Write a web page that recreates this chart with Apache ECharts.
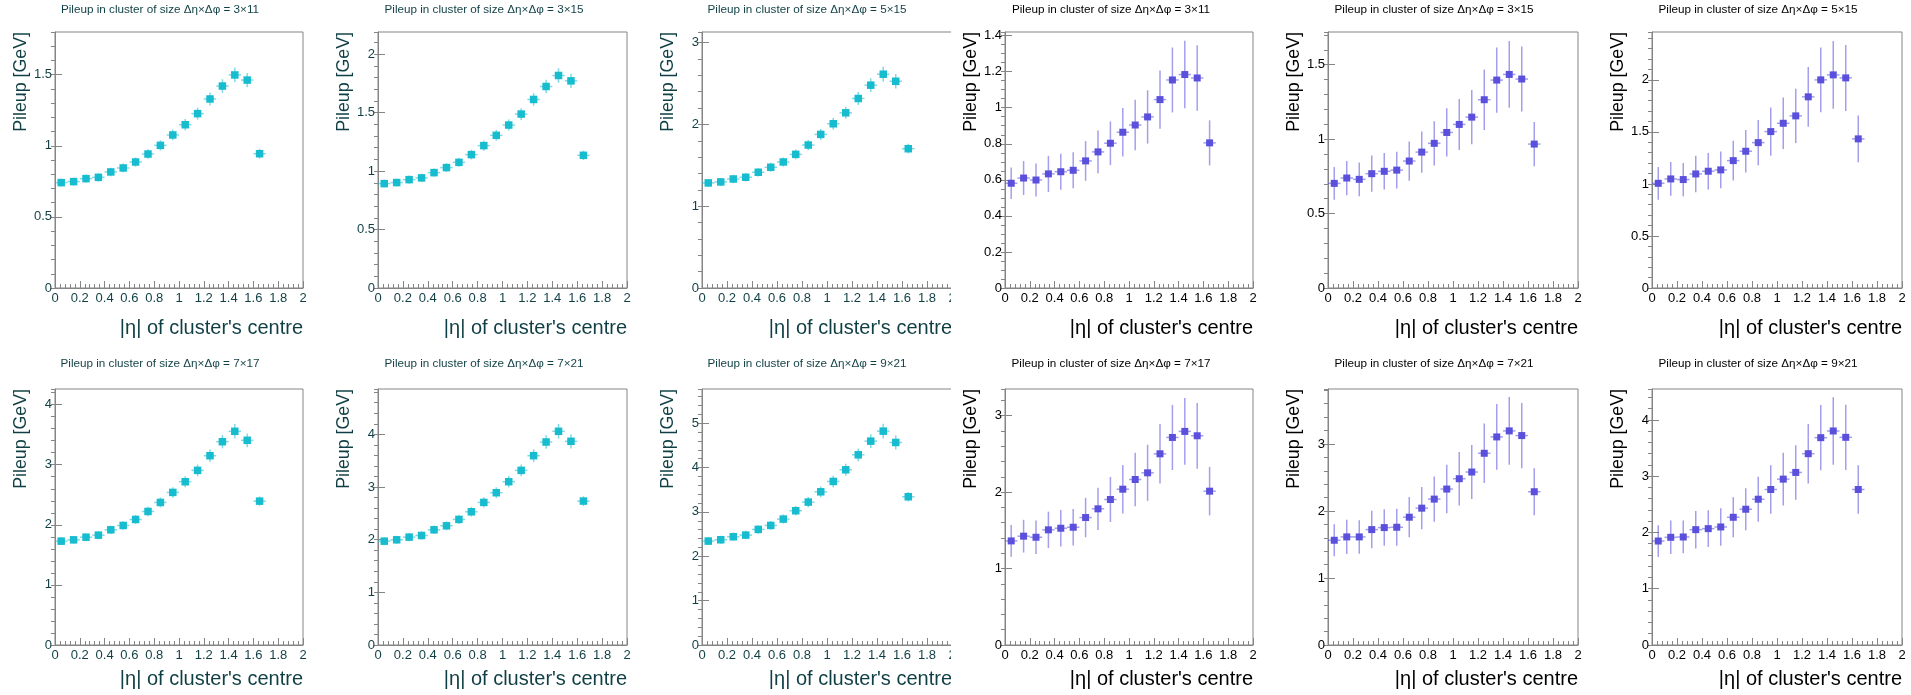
<!DOCTYPE html>
<html>
<head>
<meta charset="utf-8">
<title>Pileup in cluster vs |eta|</title>
<script src="https://cdn.jsdelivr.net/npm/echarts@6/dist/echarts.min.js"></script>
<style>
  html, body { margin: 0; padding: 0; background: #fff; }
  #main { width: 1911px; height: 695px; }
</style>
</head>
<body>
<div id="main"></div>
<script>
// bin centres in |eta| (bins are 0.1 wide)
const etaCentres = [0.05, 0.15, 0.25, 0.35, 0.45, 0.55, 0.65, 0.75, 0.85, 0.95, 1.05, 1.15, 1.25, 1.35, 1.45, 1.55, 1.65]
const binHalfWidth = 0.05
const xTickLabels = ['0', '0.2', '0.4', '0.6', '0.8', '1', '1.2', '1.4', '1.6', '1.8', '2']

// left block (cyan) : pileup and its error per bin
const cyan3x11 = [0.741, 0.748, 0.769, 0.778, 0.816, 0.844, 0.886, 0.942, 1.003, 1.076, 1.148, 1.226, 1.329, 1.420, 1.498, 1.462, 0.944]
const cyanErr3x11 = [0.028, 0.028, 0.029, 0.030, 0.030, 0.031, 0.032, 0.034, 0.036, 0.038, 0.040, 0.042, 0.045, 0.048, 0.052, 0.050, 0.034]
const cyan3x15 = [0.893, 0.902, 0.927, 0.942, 0.987, 1.030, 1.075, 1.141, 1.218, 1.306, 1.394, 1.488, 1.613, 1.724, 1.818, 1.772, 1.135]
const cyanErr3x15 = [0.034, 0.034, 0.035, 0.036, 0.036, 0.037, 0.038, 0.041, 0.043, 0.046, 0.048, 0.050, 0.054, 0.058, 0.062, 0.060, 0.041]
const cyan5x15 = [1.285, 1.297, 1.333, 1.354, 1.415, 1.476, 1.541, 1.634, 1.748, 1.878, 2.008, 2.142, 2.317, 2.480, 2.614, 2.528, 1.703]
const cyanErr5x15 = [0.049, 0.049, 0.051, 0.053, 0.053, 0.054, 0.056, 0.060, 0.063, 0.067, 0.070, 0.074, 0.079, 0.084, 0.091, 0.088, 0.060]
const cyan7x17 = [1.728, 1.750, 1.794, 1.828, 1.917, 1.989, 2.089, 2.222, 2.372, 2.539, 2.717, 2.906, 3.150, 3.383, 3.556, 3.406, 2.394]
const cyanErr7x17 = [0.064, 0.064, 0.067, 0.069, 0.069, 0.071, 0.074, 0.078, 0.083, 0.087, 0.092, 0.097, 0.104, 0.110, 0.120, 0.115, 0.078]
const cyan7x21 = [1.971, 1.997, 2.048, 2.079, 2.187, 2.263, 2.384, 2.529, 2.707, 2.891, 3.100, 3.315, 3.594, 3.854, 4.057, 3.867, 2.732]
const cyanErr7x21 = [0.076, 0.076, 0.078, 0.081, 0.081, 0.084, 0.086, 0.092, 0.097, 0.103, 0.108, 0.113, 0.122, 0.130, 0.140, 0.135, 0.092]
const cyan9x21 = [2.342, 2.372, 2.440, 2.477, 2.605, 2.695, 2.838, 3.026, 3.221, 3.453, 3.686, 3.949, 4.287, 4.595, 4.820, 4.565, 3.341]
const cyanErr9x21 = [0.090, 0.090, 0.093, 0.096, 0.096, 0.099, 0.102, 0.109, 0.115, 0.122, 0.128, 0.134, 0.144, 0.154, 0.166, 0.160, 0.109]

// right block (blue) : pileup and its error per bin
const blue3x11 = [0.581, 0.610, 0.599, 0.633, 0.645, 0.653, 0.705, 0.755, 0.803, 0.864, 0.904, 0.949, 1.045, 1.154, 1.184, 1.165, 0.805]
const blueErr3x11 = [0.088, 0.094, 0.092, 0.100, 0.100, 0.100, 0.110, 0.118, 0.121, 0.135, 0.140, 0.148, 0.162, 0.180, 0.187, 0.182, 0.125]
const blue3x15 = [0.703, 0.739, 0.730, 0.768, 0.784, 0.792, 0.853, 0.913, 0.972, 1.045, 1.099, 1.148, 1.265, 1.397, 1.435, 1.404, 0.967]
const blueErr3x15 = [0.110, 0.115, 0.114, 0.122, 0.123, 0.123, 0.132, 0.139, 0.149, 0.162, 0.171, 0.182, 0.203, 0.219, 0.224, 0.218, 0.149]
const blue5x15 = [1.006, 1.048, 1.042, 1.096, 1.122, 1.135, 1.224, 1.314, 1.397, 1.503, 1.583, 1.654, 1.837, 2.000, 2.048, 2.019, 1.433]
const blueErr5x15 = [0.157, 0.162, 0.160, 0.175, 0.176, 0.176, 0.190, 0.204, 0.218, 0.232, 0.247, 0.260, 0.287, 0.310, 0.326, 0.317, 0.225]
const blue7x17 = [1.362, 1.424, 1.410, 1.507, 1.528, 1.541, 1.668, 1.782, 1.904, 2.039, 2.166, 2.253, 2.502, 2.716, 2.795, 2.738, 2.013]
const blueErr7x17 = [0.207, 0.214, 0.220, 0.238, 0.238, 0.240, 0.258, 0.277, 0.295, 0.317, 0.349, 0.367, 0.389, 0.426, 0.437, 0.430, 0.317]
const blue7x21 = [1.563, 1.613, 1.613, 1.722, 1.752, 1.757, 1.907, 2.042, 2.177, 2.327, 2.481, 2.581, 2.861, 3.105, 3.195, 3.125, 2.287]
const blueErr7x21 = [0.240, 0.255, 0.250, 0.280, 0.272, 0.277, 0.300, 0.315, 0.337, 0.362, 0.400, 0.404, 0.444, 0.490, 0.504, 0.487, 0.350]
const blue9x21 = [1.848, 1.914, 1.920, 2.050, 2.068, 2.098, 2.270, 2.413, 2.591, 2.764, 2.948, 3.067, 3.400, 3.685, 3.804, 3.691, 2.764]
const blueErr9x21 = [0.282, 0.297, 0.291, 0.333, 0.327, 0.333, 0.357, 0.374, 0.400, 0.431, 0.467, 0.484, 0.529, 0.580, 0.600, 0.580, 0.431]

const clusterSizes = ['3×11', '3×15', '5×15', '3×11', '3×15', '5×15', '7×17', '7×21', '9×21', '7×17', '7×21', '9×21']
const panelValues = [cyan3x11, cyan3x15, cyan5x15, blue3x11, blue3x15, blue5x15, cyan7x17, cyan7x21, cyan9x21, blue7x17, blue7x21, blue9x21]
const panelErrors = [cyanErr3x11, cyanErr3x15, cyanErr5x15, blueErr3x11, blueErr3x15, blueErr5x15, cyanErr7x17, cyanErr7x21, cyanErr9x21, blueErr7x17, blueErr7x21, blueErr9x21]

// y axis ranges per panel
const yMax = [1.8, 2.19, 3.13, 1.42, 1.72, 2.46, 4.26, 4.86, 5.77, 3.35, 3.82, 4.55]
const yStep = [0.5, 0.5, 1, 0.2, 0.5, 0.5, 1, 1, 1, 1, 1, 1]
const yMinorStep = [0.1, 0.1, 0.2, 0.05, 0.1, 0.1, 0.2, 0.2, 0.2, 0.2, 0.2, 0.2]

// layout (pixels)
const colLeft = [55, 378, 702, 1005, 1328, 1652]
const colWidth = [248, 249, 250, 248, 250, 250]
const padCentre = [160, 484, 807, 1111, 1434, 1758]
const rowTop = [32, 389]
const plotHeight = 256
const titleY = [9.5, 364]
const xTitleY = [328, 679]

const FONT = "'Liberation Sans', Arial, Helvetica, sans-serif"
const cyan = '#17bccf'
const cyanBar = 'rgba(23,188,207,0.55)'
const blue = '#5a50dc'
const blueBar = 'rgba(90,80,220,0.55)'
const frameColor = '#858585'

const chart = echarts.init(document.getElementById('main'), null, { renderer: 'canvas' })

const grids = [], xAxes = [], yAxes = [], series = [], graphics = []

for (let p = 0; p < 12; p++) {
  const row = Math.floor(p / 6)
  const col = p % 6
  const isCyan = col < 3
  const textColor = isCyan ? '#0f3f44' : '#000'
  const markColor = isCyan ? cyan : blue
  const barColor = isCyan ? cyanBar : blueBar
  const markSize = isCyan ? 7.5 : 7

  grids.push({
    left: colLeft[col], top: rowTop[row], width: colWidth[col], height: plotHeight,
    show: true, borderColor: frameColor, borderWidth: 1, backgroundColor: '#fff'
  })

  // x axis: major labels + minor ticks
  xAxes.push({
    gridIndex: p, type: 'value', min: 0, max: 2, interval: 0.2,
    axisLine: { show: true, onZero: false, lineStyle: { color: frameColor } },
    axisTick: { show: true, inside: true, length: 7, lineStyle: { color: frameColor } },
    minorTick: { show: true, splitNumber: 5, length: 4, lineStyle: { color: frameColor } },
    splitLine: { show: false },
    axisLabel: {
      color: textColor, fontFamily: FONT, fontSize: 13, margin: 4,
      formatter: v => xTickLabels[Math.round(v / 0.2)] ?? ''
    }
  })

  // y axis: major ticks and labels
  yAxes.push({
    gridIndex: p, type: 'value', min: 0, max: yMax[p], interval: yStep[p],
    axisLine: { show: true, onZero: false, lineStyle: { color: frameColor } },
    axisTick: { show: true, inside: true, length: 7, lineStyle: { color: frameColor } },
    splitLine: { show: false },
    axisLabel: {
      color: textColor, fontFamily: FONT, fontSize: 13, margin: 3,
      showMaxLabel: false,
      formatter: v => String(+v.toFixed(2))
    }
  })
  // y axis: minor ticks only
  yAxes.push({
    gridIndex: p, type: 'value', min: 0, max: yMax[p], interval: yMinorStep[p],
    axisLine: { show: false },
    axisTick: { show: true, inside: true, length: 4, lineStyle: { color: frameColor } },
    splitLine: { show: false },
    axisLabel: { show: false }
  })

  const vals = panelValues[p]
  const errs = panelErrors[p]
  series.push({
    type: 'custom',
    xAxisIndex: p,
    yAxisIndex: p * 2,
    data: etaCentres.map((x, i) => [x, vals[i], errs[i]]),
    encode: { x: 0, y: 1 },
    renderItem: (params, api) => {
      const x = api.value(0)
      const y = api.value(1)
      const e = api.value(2)
      const c = api.coord([x, y])
      const lo = api.coord([x, y - e])
      const hi = api.coord([x, y + e])
      const l = api.coord([x - binHalfWidth, y])
      const r = api.coord([x + binHalfWidth, y])
      const s = markSize
      return {
        type: 'group',
        children: [
          { type: 'line', shape: { x1: lo[0], y1: lo[1], x2: hi[0], y2: hi[1] }, style: { stroke: barColor, lineWidth: 1.5 } },
          { type: 'line', shape: { x1: l[0], y1: l[1], x2: r[0], y2: r[1] }, style: { stroke: barColor, lineWidth: 1.5 } },
          { type: 'rect', shape: { x: c[0] - s / 2, y: c[1] - s / 2, width: s, height: s }, style: { fill: markColor } }
        ]
      }
    }
  })

  // panel title
  graphics.push({
    type: 'text', x: padCentre[col], y: titleY[row], z: 50,
    style: {
      text: 'Pileup in cluster of size Δη×Δφ = ' + clusterSizes[p],
      fill: textColor, font: '11.7px ' + FONT,
      textAlign: 'center', textVerticalAlign: 'middle', align: 'center', verticalAlign: 'middle'
    }
  })
  // y axis title, right-aligned at the top of the frame
  graphics.push({
    type: 'text', x: colLeft[col] - 34, y: rowTop[row], rotation: Math.PI / 2, z: 50,
    style: {
      text: 'Pileup [GeV]',
      fill: textColor, font: '17.8px ' + FONT,
      textAlign: 'right', textVerticalAlign: 'middle', align: 'right', verticalAlign: 'middle'
    }
  })
  // x axis title, right-aligned at the frame end
  graphics.push({
    type: 'text', x: colLeft[col] + colWidth[col], y: xTitleY[row], z: 50,
    style: {
      text: "|η| of cluster's centre",
      fill: textColor, font: '20px ' + FONT,
      textAlign: 'right', textVerticalAlign: 'middle', align: 'right', verticalAlign: 'middle'
    }
  })
}

// the left image is cut off where the right one starts
graphics.push({
  type: 'rect', left: 951, top: 0, z: 100,
  shape: { width: 8, height: 695 },
  style: { fill: '#fff' }
})

chart.setOption({
  animation: false,
  backgroundColor: '#fff',
  grid: grids,
  xAxis: xAxes,
  yAxis: yAxes,
  series: series,
  graphic: graphics
})
</script>
</body>
</html>
